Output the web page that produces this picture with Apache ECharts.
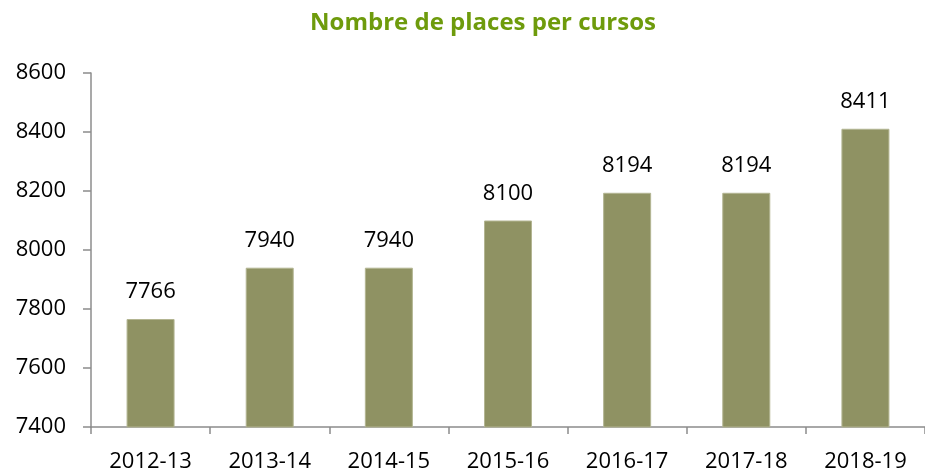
<!DOCTYPE html>
<html>
<head>
<meta charset="utf-8">
<script src="https://cdn.jsdelivr.net/npm/echarts@6/dist/echarts.min.js"></script>
<style>
  html, body { margin: 0; padding: 0; background: #fff; }
  #chart { width: 925px; height: 474px; }
</style>
</head>
<body>
<div id="chart"></div>
<script>
// cursos i places
const cursos = ['2012-13', '2013-14', '2014-15', '2015-16', '2016-17', '2017-18', '2018-19']
const places = [7766, 7940, 7940, 8100, 8194, 8194, 8411]
const yTicks = [7400, 7600, 7800, 8000, 8200, 8400, 8600]

const font = 'Open Sans, Noto Sans, sans-serif'

const option = {
  animation: false,
  title: {
    text: 'Nombre de places per cursos',
    left: 478,
    textAlign: 'center',
    top: 6,
    textStyle: { color: '#6E9B0C', fontSize: 24, fontWeight: 'bold', fontFamily: font }
  },
  grid: { left: 91, top: 73, width: 842, height: 354 },
  xAxis: {
    type: 'category',
    data: cursos,
    axisLine: { lineStyle: { color: '#8C8C8C', width: 1.5 } },
    axisTick: { show: true, length: 7, lineStyle: { color: '#8C8C8C', width: 1.5 } },
    axisLabel: { color: '#000', fontSize: 22, fontFamily: font, margin: 24 }
  },
  yAxis: {
    type: 'value',
    min: yTicks[0],
    max: yTicks[yTicks.length - 1],
    interval: 200,
    splitLine: { show: false },
    axisLine: { show: true, lineStyle: { color: '#8C8C8C', width: 1.5 } },
    axisTick: { show: true, length: 8, lineStyle: { color: '#8C8C8C', width: 1.5 } },
    axisLabel: { color: '#000', fontSize: 22, fontFamily: font, margin: 25, formatter: (v) => String(v) }
  },
  series: [{
    type: 'bar',
    data: places,
    barWidth: 48,
    itemStyle: { color: '#8F9263', borderColor: '#B3B592', borderWidth: 1 },
    label: {
      show: true,
      position: 'top',
      distance: 16,
      color: '#000',
      fontSize: 22,
      fontFamily: font
    }
  }]
}

const myChart = echarts.init(document.getElementById('chart'))
myChart.setOption(option)
</script>
</body>
</html>
